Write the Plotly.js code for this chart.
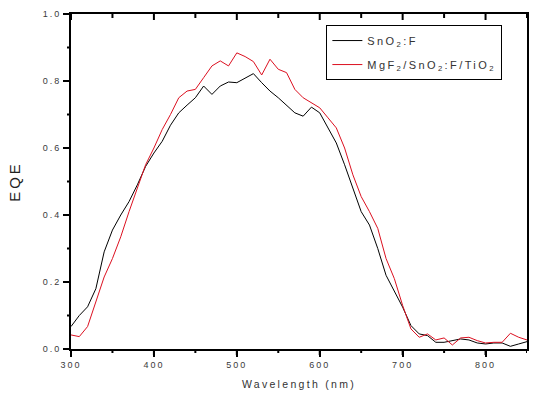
<!DOCTYPE html>
<html>
<head>
<meta charset="utf-8">
<script src="https://cdn.plot.ly/plotly-3.0.1.min.js"></script>
<style>
html,body{margin:0;padding:0;background:#fff;}
#chart{width:537px;height:397px;}
.xtick text, .ytick text{letter-spacing:2px;}
.legendtext{letter-spacing:2.4px;}
.g-xtitle text{letter-spacing:2.3px;}
.g-ytitle text{letter-spacing:3px;}
</style>
</head>
<body>
<div id="chart"></div>
<script>
const wavelength = [300,310,320,330,340,350,360,370,380,390,400,410,420,430,440,450,460,470,480,490,500,510,520,530,540,550,560,570,580,590,600,610,620,630,640,650,660,670,680,690,700,710,720,730,740,750,760,770,780,790,800,810,820,830,840,850];
const eqeSnO2F = [0.067,0.10,0.126,0.18,0.29,0.355,0.40,0.44,0.49,0.545,0.585,0.62,0.668,0.705,0.728,0.75,0.785,0.76,0.785,0.797,0.795,0.808,0.822,0.795,0.77,0.75,0.728,0.705,0.695,0.722,0.705,0.658,0.615,0.55,0.48,0.41,0.37,0.30,0.22,0.17,0.125,0.07,0.045,0.04,0.02,0.02,0.025,0.03,0.027,0.018,0.015,0.018,0.018,0.008,0.015,0.022];
const eqeMgF2 = [0.042,0.037,0.067,0.14,0.215,0.27,0.335,0.41,0.48,0.55,0.60,0.655,0.70,0.75,0.77,0.775,0.81,0.845,0.86,0.845,0.884,0.873,0.858,0.818,0.865,0.835,0.825,0.775,0.75,0.735,0.72,0.69,0.66,0.60,0.52,0.455,0.41,0.36,0.27,0.21,0.13,0.06,0.035,0.045,0.027,0.033,0.012,0.033,0.035,0.025,0.018,0.02,0.02,0.047,0.035,0.027];
const seriesNames = ['SnO<sub>2</sub>:F', 'MgF<sub>2</sub>/SnO<sub>2</sub>:F/TiO<sub>2</sub>'];
const xMajorTicks = [300,400,500,600,700,800];
const xMinorTicks = [350,450,550,650,750,850];
const yMajorTicks = [0,0.2,0.4,0.6,0.8,1.0];
const yMinorTicks = [0.1,0.3,0.5,0.7,0.9];

const traces = [
  {x: wavelength, y: eqeSnO2F, name: seriesNames[0], legendgroup: 'a', type: 'scatter', mode: 'lines', line: {color: '#000000', width: 1}},
  {x: wavelength, y: eqeMgF2, name: seriesNames[1], legendgroup: 'b', type: 'scatter', mode: 'lines', line: {color: '#dc1020', width: 1}}
];
const W = 537, H = 397, M = {l: 71, r: 10, t: 14, b: 48};
const plotW = W - M.l - M.r, plotH = H - M.t - M.b;
const majLen = 6, minLen = 4;
const tickLine = {color: '#000', width: 2};
const shapes = [];
// bottom (outward) and top (inward) x ticks
xMajorTicks.concat(xMinorTicks).forEach(function (t) {
  const len = xMajorTicks.includes(t) ? majLen : minLen;
  shapes.push({type: 'line', xref: 'x', yref: 'paper', x0: t, x1: t, y0: 0, y1: -len / plotH, line: tickLine, layer: 'above'});
  shapes.push({type: 'line', xref: 'x', yref: 'paper', x0: t, x1: t, y0: 1, y1: 1 - len / plotH, line: tickLine, layer: 'above'});
});
// left (outward) y ticks
yMajorTicks.concat(yMinorTicks).forEach(function (t) {
  const len = yMajorTicks.includes(t) ? majLen : minLen;
  shapes.push({type: 'line', xref: 'paper', yref: 'y', x0: 0, x1: -len / plotW, y0: t, y1: t, line: tickLine, layer: 'above'});
});

const fam = 'Arial, "Liberation Sans", sans-serif';
const tickFont = {family: fam, size: 9, color: '#3a3a3a'};
const layout = {
  width: W, height: H,
  margin: M,
  paper_bgcolor: '#fff', plot_bgcolor: '#fff',
  showlegend: true,
  legend: {x: 0.56, y: 0.967, xanchor: 'left', yanchor: 'top', bordercolor: '#000', borderwidth: 1, bgcolor: '#fff',
           font: {family: fam, size: 11, color: '#333'}, tracegroupgap: 5, traceorder: 'grouped'},
  xaxis: {range: [300, 850], tickvals: xMajorTicks, ticks: 'outside', ticklen: majLen, tickwidth: 2, tickcolor: '#000',
          showline: true, linewidth: 2, linecolor: '#000', mirror: true, showgrid: false, zeroline: false,
          tickfont: tickFont,
          title: {text: 'Wavelength (nm)', font: {family: fam, size: 10.5, color: '#333'}, standoff: 12}},
  yaxis: {range: [0, 1.0], tickvals: yMajorTicks, tickformat: '.1f', ticks: 'outside', ticklen: majLen, tickwidth: 2, tickcolor: '#000',
          showline: true, linewidth: 2, linecolor: '#000', mirror: true, showgrid: false, zeroline: false,
          tickfont: tickFont,
          title: {text: 'EQE', font: {family: fam, size: 15, color: '#222'}, standoff: 18}},
  shapes: shapes
};
Plotly.newPlot('chart', traces, layout, {displayModeBar: false, staticPlot: true});
</script>
</body>
</html>
